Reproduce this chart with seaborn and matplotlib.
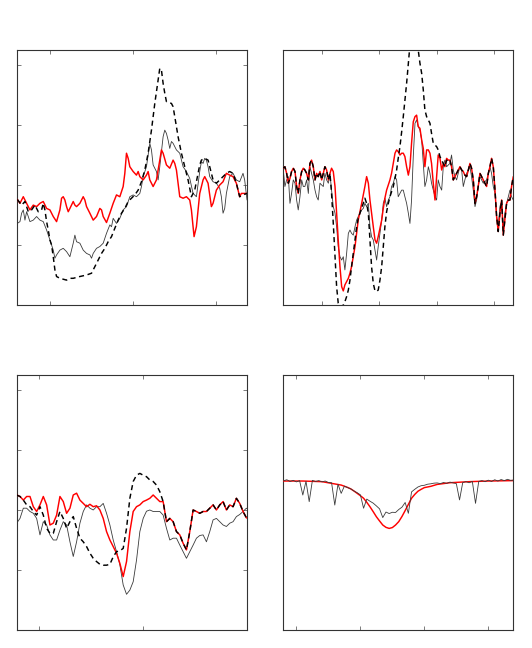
import matplotlib
matplotlib.use("Agg")
import matplotlib.pyplot as plt
import seaborn as sns

sns.set_style("white")
plt.rcParams["font.family"] = ["DejaVu Sans"]

# ---- panel 1 (upper left), velocity in km/s, normalised flux ----
p1_obs_v = [-1388, -1356, -1336, -1316, -1296, -1276, -1256, -1236, -1196, -1156, -1116, -1076, -1036, -996,
            -956, -936, -916, -876, -836, -796, -756, -716, -696, -676, -636, -596, -556, -516, -496, -476,
            -436, -396, -356, -316, -276, -256, -236, -196, -156, -116, -76, -36, 4, 44, 84, 104, 124, 164,
            204, 224, 244, 284, 304, 324, 364, 384, 404, 424, 444, 464, 484, 524, 564, 604, 644, 684, 724,
            764, 804, 824, 844, 864, 884, 904, 924, 964, 1004, 1044, 1064, 1084, 1104, 1124, 1164, 1204,
            1244, 1284, 1324, 1344, 1372]
p1_obs_f = [0.873, 0.879, 0.907, 0.918, 0.884, 0.912, 0.896, 0.879, 0.884, 0.896, 0.884, 0.879, 0.851, 0.818,
            0.784, 0.757, 0.768, 0.784, 0.790, 0.779, 0.762, 0.807, 0.834, 0.812, 0.807, 0.784, 0.773, 0.768,
            0.757, 0.773, 0.790, 0.796, 0.807, 0.840, 0.868, 0.862, 0.890, 0.873, 0.890, 0.918, 0.929, 0.962,
            0.968, 0.962, 0.973, 0.996, 1.029, 1.062, 1.140, 1.118, 1.068, 1.046, 1.018, 1.062, 1.162, 1.184,
            1.173, 1.151, 1.123, 1.146, 1.140, 1.118, 1.107, 1.062, 1.046, 1.023, 0.973, 0.962, 1.046, 1.079,
            1.073, 1.090, 1.084, 1.062, 1.029, 1.012, 1.007, 0.990, 0.962, 0.907, 0.923, 0.973, 1.029, 1.040,
            1.018, 1.012, 1.040, 1.018, 0.951]
p1_fit_v = [-1388, -1356, -1316, -1276, -1236, -1196, -1156, -1116, -1076, -1036, -996, -956, -916, -876,
            -856, -836, -816, -796, -776, -756, -716, -696, -676, -636, -596, -576, -556, -516, -476, -436,
            -396, -376, -356, -316, -276, -236, -196, -156, -116, -96, -76, -56, -36, 4, 44, 64, 84, 124,
            164, 184, 204, 244, 284, 324, 344, 364, 404, 444, 484, 504, 524, 564, 604, 644, 684, 704, 724,
            736, 764, 804, 844, 864, 904, 944, 964, 1004, 1044, 1084, 1124, 1164, 1204, 1244, 1284, 1304,
            1324, 1372]
p1_fit_f = [0.953, 0.940, 0.962, 0.940, 0.918, 0.934, 0.929, 0.940, 0.946, 0.923, 0.918, 0.896, 0.879, 0.918,
            0.957, 0.962, 0.951, 0.929, 0.912, 0.923, 0.946, 0.934, 0.929, 0.940, 0.962, 0.951, 0.929, 0.907,
            0.884, 0.896, 0.923, 0.918, 0.896, 0.876, 0.907, 0.940, 0.968, 0.962, 0.996, 1.040, 1.107, 1.090,
            1.062, 1.046, 1.034, 1.046, 1.029, 1.018, 1.034, 1.046, 1.018, 0.996, 1.018, 1.084, 1.118, 1.107,
            1.068, 1.057, 1.084, 1.073, 1.051, 0.962, 0.957, 0.962, 0.951, 0.918, 0.862, 0.829, 0.862, 0.973,
            1.018, 1.029, 1.007, 0.929, 0.940, 0.984, 1.001, 1.012, 1.040, 1.034, 1.029, 1.007, 0.962, 0.973,
            0.973, 0.973]
p1_mod_v = [-1388, -1336, -1296, -1256, -1216, -1176, -1136, -1096, -1076, -1056, -1036, -1016, -996, -976,
            -956, -936, -916, -876, -796, -756, -716, -636, -556, -496, -456, -416, -376, -336, -296, -256,
            -216, -176, -136, -96, -56, -16, 24, 64, 104, 144, 184, 224, 264, 304, 324, 344, 364, 384, 404,
            464, 484, 504, 544, 584, 624, 664, 704, 744, 784, 804, 824, 864, 904, 924, 964, 1004, 1044, 1084,
            1124, 1164, 1204, 1244, 1284, 1324, 1372]
p1_mod_f = [0.953, 0.934, 0.946, 0.912, 0.918, 0.934, 0.912, 0.918, 0.940, 0.918, 0.879, 0.851, 0.818, 0.801,
            0.762, 0.718, 0.696, 0.690, 0.684, 0.690, 0.690, 0.696, 0.701, 0.707, 0.729, 0.751, 0.773, 0.790,
            0.812, 0.829, 0.857, 0.884, 0.907, 0.923, 0.946, 0.957, 0.968, 0.984, 1.012, 1.051, 1.107, 1.184,
            1.273, 1.351, 1.390, 1.384, 1.340, 1.307, 1.279, 1.273, 1.262, 1.229, 1.162, 1.107, 1.062, 1.018,
            0.962, 0.984, 1.040, 1.068, 1.084, 1.090, 1.084, 1.062, 1.018, 1.007, 1.018, 1.029, 1.040, 1.046,
            1.040, 1.007, 0.962, 0.968, 0.973]

# ---- panel 2 (upper right) ----
p2_v = [-1334, -1320, -1305, -1290, -1276, -1262, -1247, -1232, -1218, -1204,
        -1189, -1174, -1160, -1146, -1131, -1116, -1102, -1088, -1073, -1058,
        -1044, -1030, -1015, -1000, -986, -972, -957, -942, -928, -914,
        -899, -884, -870, -856, -841, -826, -812, -798, -783, -768,
        -754, -740, -725, -710, -696, -682, -667, -652, -638, -624,
        -609, -594, -580, -566, -551, -536, -522, -508, -493, -478,
        -464, -450, -435, -420, -406, -392, -377, -362, -348, -334,
        -319, -304, -290, -276, -261, -246, -232, -218, -203, -188,
        -174, -160, -145, -130, -116, -102, -87, -72, -58, -44,
        -29, -14, 0, 14, 29, 44, 58, 72, 87, 102,
        116, 130, 145, 160, 174, 188, 203, 218, 232, 246,
        261, 276, 290, 304, 319, 334, 348, 362, 377, 392,
        406, 420, 435, 450, 464, 478, 493, 508, 522, 536,
        551, 566, 580, 594, 609, 624, 638, 652, 667]
p2_obs = [1.051, 0.996, 1.018, 1.029, 0.940, 0.973, 1.018, 1.007, 0.951, 0.918,
          0.962, 1.018, 0.996, 0.996, 1.018, 0.973, 1.062, 1.040, 1.018, 0.984,
          0.962, 0.951, 1.007, 1.001, 0.996, 1.040, 1.018, 1.007, 1.040, 0.984,
          0.929, 0.907, 0.862, 0.796, 0.762, 0.751, 0.762, 0.718, 0.773, 0.840,
          0.851, 0.840, 0.834, 0.862, 0.884, 0.896, 0.907, 0.918, 0.923, 0.940,
          0.929, 0.940, 0.862, 0.829, 0.818, 0.784, 0.751, 0.796, 0.840, 0.884,
          0.940, 0.957, 0.929, 0.951, 0.962, 0.996, 1.007, 1.029, 1.018, 0.962,
          0.973, 0.984, 0.984, 0.962, 0.940, 0.907, 0.873, 0.951, 1.096, 1.207,
          1.218, 1.196, 1.184, 1.151, 1.073, 0.996, 1.018, 1.062, 1.040, 1.007,
          0.984, 0.962, 0.951, 1.018, 0.996, 0.984, 1.062, 1.084, 1.062, 1.068,
          1.073, 1.101, 1.051, 1.029, 1.018, 1.040, 1.062, 1.051, 0.996, 1.018,
          1.040, 1.051, 1.062, 1.029, 0.984, 0.929, 0.951, 0.996, 1.029, 1.018,
          1.007, 1.012, 1.018, 1.040, 1.062, 1.040, 0.996, 0.973, 0.896, 0.862,
          0.929, 0.951, 0.851, 0.907, 0.940, 0.962, 0.984, 0.962, 0.951]
p2_fit = [1.057, 1.062, 1.040, 1.007, 1.023, 1.046, 1.057, 1.046, 0.996, 0.973,
          1.018, 1.046, 1.057, 1.051, 1.040, 1.018, 1.073, 1.084, 1.062, 1.018,
          1.040, 1.029, 1.046, 1.018, 1.040, 1.062, 1.051, 1.018, 1.040, 1.057,
          1.046, 0.996, 0.907, 0.818, 0.729, 0.662, 0.648, 0.668, 0.679, 0.690,
          0.707, 0.729, 0.762, 0.796, 0.840, 0.884, 0.912, 0.940, 0.968, 0.996,
          1.029, 1.007, 0.951, 0.907, 0.862, 0.818, 0.807, 0.829, 0.857, 0.884,
          0.923, 0.957, 0.984, 1.001, 1.018, 1.040, 1.073, 1.107, 1.118, 1.112,
          1.101, 1.107, 1.107, 1.096, 1.062, 1.034, 1.062, 1.140, 1.212, 1.229,
          1.234, 1.196, 1.190, 1.151, 1.123, 1.062, 1.118, 1.118, 1.107, 1.073,
          1.007, 0.951, 1.029, 1.101, 1.090, 1.051, 1.073, 1.062, 1.090, 1.084,
          1.084, 1.062, 1.018, 1.029, 1.040, 1.051, 1.062, 1.051, 1.046, 1.034,
          1.029, 1.051, 1.073, 1.057, 1.018, 0.940, 0.962, 0.996, 1.040, 1.029,
          1.018, 1.007, 0.996, 1.040, 1.062, 1.090, 1.062, 0.984, 0.896, 0.846,
          0.907, 0.951, 0.834, 0.884, 0.940, 0.951, 0.951, 0.996, 1.029]
p2_mod = [1.057, 1.062, 1.040, 1.007, 1.023, 1.046, 1.057, 1.046, 0.996, 0.973,
          1.018, 1.046, 1.057, 1.051, 1.040, 1.018, 1.073, 1.084, 1.062, 1.018,
          1.040, 1.029, 1.046, 1.018, 1.040, 1.062, 1.051, 1.018, 1.040, 0.973,
          0.873, 0.762, 0.662, 0.607, 0.595, 0.595, 0.601, 0.612, 0.629, 0.651,
          0.684, 0.729, 0.773, 0.818, 0.862, 0.890, 0.907, 0.923, 0.940, 0.957,
          0.940, 0.907, 0.818, 0.729, 0.673, 0.648, 0.646, 0.651, 0.684, 0.729,
          0.796, 0.862, 0.912, 0.940, 0.962, 0.979, 0.996, 1.023, 1.051, 1.090,
          1.129, 1.179, 1.229, 1.284, 1.340, 1.407, 1.473, 1.529, 1.551, 1.529,
          1.484, 1.451, 1.407, 1.373, 1.318, 1.251, 1.229, 1.218, 1.207, 1.173,
          1.140, 1.134, 1.129, 1.118, 1.096, 1.084, 1.073, 1.062, 1.084, 1.079,
          1.084, 1.062, 1.018, 1.029, 1.040, 1.051, 1.062, 1.051, 1.046, 1.034,
          1.029, 1.051, 1.073, 1.057, 1.018, 0.940, 0.962, 0.996, 1.040, 1.029,
          1.018, 1.007, 0.996, 1.040, 1.062, 1.090, 1.062, 0.984, 0.896, 0.846,
          0.907, 0.951, 0.834, 0.884, 0.940, 0.951, 0.951, 0.996, 1.029]

# ---- panel 3 (lower left) ----
p3_v = [-1216, -1184, -1152, -1120, -1088, -1056, -1024, -992, -960, -928,
        -896, -864, -832, -800, -768, -736, -704, -672, -640, -608,
        -576, -544, -512, -480, -448, -416, -384, -352, -320, -288,
        -256, -224, -192, -160, -128, -96, -64, -32, 0, 32,
        64, 96, 128, 160, 192, 224, 256, 288, 320, 352,
        384, 416, 448, 480, 512, 544, 576, 608, 640, 672,
        704, 736, 768, 800, 832, 864, 896, 928, 960, 992,
        1024]
p3_obs = [0.957, 0.973, 1.007, 1.007, 0.996, 0.990, 0.973, 0.918, 0.962, 0.951,
          0.918, 0.901, 0.901, 0.934, 0.962, 0.951, 0.895, 0.846, 0.895, 0.957,
          0.996, 1.018, 1.007, 1.001, 1.012, 1.012, 1.023, 0.990, 0.951, 0.901,
          0.862, 0.818, 0.751, 0.720, 0.734, 0.762, 0.834, 0.929, 0.973, 0.997,
          1.001, 0.996, 0.996, 0.996, 0.984, 0.940, 0.901, 0.907, 0.907, 0.884,
          0.862, 0.840, 0.862, 0.884, 0.907, 0.916, 0.918, 0.895, 0.929, 0.968,
          0.973, 0.962, 0.951, 0.946, 0.957, 0.962, 0.979, 0.986, 0.996, 1.007,
          1.001]
p3_fit = [1.051, 1.046, 1.034, 1.046, 1.046, 1.012, 0.996, 1.018, 1.046, 1.018,
          0.951, 0.957, 0.984, 1.046, 1.029, 0.990, 1.007, 1.051, 1.057, 1.034,
          1.023, 1.012, 1.020, 1.012, 1.015, 1.001, 0.973, 0.929, 0.901, 0.879,
          0.857, 0.823, 0.779, 0.829, 0.929, 0.996, 1.012, 1.018, 1.029, 1.034,
          1.040, 1.051, 1.040, 1.029, 1.029, 0.962, 0.973, 0.962, 0.929, 0.918,
          0.890, 0.868, 0.929, 1.001, 0.996, 0.990, 0.996, 0.996, 1.007, 1.018,
          1.001, 1.018, 1.029, 1.001, 1.018, 1.012, 1.040, 1.023, 0.996, 0.975,
          0.971]
p3_mod = [1.051, 1.046, 1.034, 1.018, 1.012, 0.996, 0.984, 1.012, 0.984, 0.940,
          0.923, 0.923, 0.962, 0.996, 0.973, 0.940, 0.962, 0.979, 0.940, 0.907,
          0.895, 0.879, 0.857, 0.840, 0.829, 0.820, 0.817, 0.817, 0.820, 0.845,
          0.862, 0.865, 0.873, 0.940, 1.040, 1.096, 1.117, 1.123, 1.117, 1.112,
          1.101, 1.096, 1.084, 1.062, 1.029, 0.962, 0.973, 0.962, 0.929, 0.918,
          0.890, 0.868, 0.929, 1.001, 0.996, 0.990, 0.996, 0.996, 1.007, 1.018,
          1.001, 1.018, 1.029, 1.001, 1.018, 1.012, 1.040, 1.023, 0.996, 0.975,
          0.971]

# ---- panel 4 (lower right), wavelength in Angstrom ----
p4_obs_w = list(range(6536, 6609))
p4_obs = [1.002, 1.007, 0.999, 1.004, 0.997, 1.003, 0.935, 1.000, 0.904, 1.004,
          0.999, 1.003, 0.997, 1.001, 0.994, 0.993, 0.888, 0.986, 0.943, 0.977,
          0.970, 0.964, 0.954, 0.946, 0.936, 0.873, 0.916, 0.906, 0.897, 0.884,
          0.870, 0.829, 0.855, 0.848, 0.854, 0.853, 0.867, 0.878, 0.900, 0.849,
          0.950, 0.962, 0.973, 0.979, 0.981, 0.986, 0.988, 0.991, 0.992, 0.989,
          0.994, 0.990, 0.996, 0.992, 0.989, 0.912, 0.994, 0.998, 0.993, 0.999,
          0.896, 0.999, 1.003, 0.998, 1.005, 0.999, 1.007, 1.001, 1.008, 1.003,
          1.009, 1.004, 1.006]
p4_fit_w = [6536, 6542, 6548, 6551, 6554, 6556, 6557, 6558, 6559, 6560, 6561, 6562, 6563, 6564, 6565,
            6566, 6567, 6568, 6569, 6570, 6571, 6572, 6573, 6574, 6575, 6576, 6577, 6578, 6579, 6580,
            6582, 6584, 6588, 6594, 6600, 6608]
p4_fit = [1.001, 1.001, 0.998, 0.990, 0.982, 0.971, 0.964, 0.954, 0.943, 0.932, 0.920, 0.901, 0.880, 0.857,
          0.833, 0.813, 0.794, 0.783, 0.778, 0.782, 0.794, 0.810, 0.834, 0.862, 0.891, 0.920, 0.938, 0.953,
          0.962, 0.970, 0.976, 0.985, 0.993, 0.998, 1.001, 1.003]


def draw(ax, obs, fit, mod=None, obs_on_top=False):
    z_obs = 4 if obs_on_top else 2
    sns.lineplot(x=obs[0], y=obs[1], ax=ax, color="#3a3a3a", linewidth=0.6, zorder=z_obs,
                 estimator=None, sort=False, legend=False)
    sns.lineplot(x=fit[0], y=fit[1], ax=ax, color="red", linewidth=1.05, zorder=3,
                 estimator=None, sort=False, legend=False)
    if mod is not None:
        sns.lineplot(x=mod[0], y=mod[1], ax=ax, color="black", linewidth=1.05, zorder=5,
                     linestyle=(0, (3.5, 2.5)), estimator=None, sort=False, legend=False)


def frame(ax, xlim, ylim, xticks, yticks):
    ax.set_xlim(*xlim)
    ax.set_ylim(*ylim)
    ax.set_xticks(xticks)
    ax.set_yticks(yticks)
    ax.set_xlabel("")
    ax.set_ylabel("")
    ax.tick_params(direction="in", top=True, bottom=True, left=bool(yticks), right=bool(yticks),
                   length=3, width=0.6, color="#666666",
                   labelbottom=False, labelleft=False)
    for sp in ax.spines.values():
        sp.set_color("#333333")
        sp.set_linewidth(0.8)


fig = plt.figure(figsize=(5.32, 6.48), dpi=100)
ax1 = fig.add_axes([0.0325, 0.5293, 0.4318, 0.3935])
ax2 = fig.add_axes([0.5325, 0.5293, 0.4323, 0.3935])
ax3 = fig.add_axes([0.0325, 0.0278, 0.4318, 0.3935])
ax4 = fig.add_axes([0.5325, 0.0278, 0.4323, 0.3935])

draw(ax1, (p1_obs_v, p1_obs_f), (p1_fit_v, p1_fit_f), (p1_mod_v, p1_mod_f))
frame(ax1, (-1388, 1372), (0.601, 1.451), [-1000, 0, 1000], [0.8, 1.0, 1.2, 1.4])

draw(ax2, (p2_v, p2_obs), (p2_v, p2_fit), (p2_v, p2_mod))
frame(ax2, (-1334, 667), (0.601, 1.451), [-1000, -500, 0, 500], [])

draw(ax3, (p3_v, p3_obs), (p3_v, p3_fit), (p3_v, p3_mod))
frame(ax3, (-1210, 998), (0.601, 1.451), [-1000, 0], [0.8, 1.0, 1.2, 1.4])

draw(ax4, (p4_obs_w, p4_obs), (p4_fit_w, p4_fit), obs_on_top=True)
frame(ax4, (6535.9, 6607.8), (0.3, 1.5), [6540, 6560, 6580, 6600], [])

fig.savefig("out.png", dpi=100)
